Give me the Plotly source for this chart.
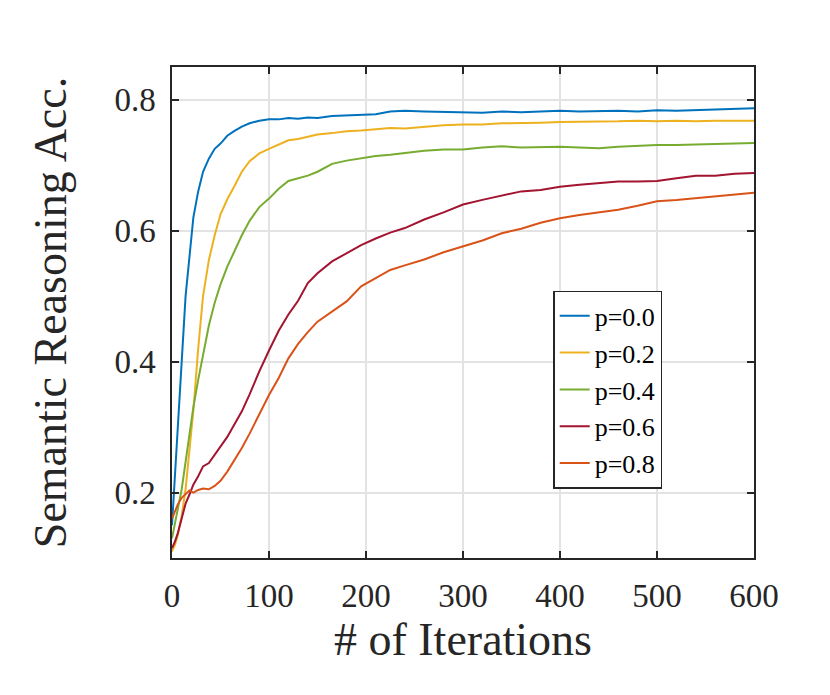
import plotly.graph_objects as go

iterations = [0, 3, 6, 10, 14, 18, 22, 27, 32, 38, 44, 50, 57, 64, 72, 80, 90, 100,
              110, 120, 130, 140, 150, 165, 180, 195, 210, 225, 240, 260, 280, 300,
              320, 340, 360, 380, 400, 420, 440, 460, 480, 500, 520, 540, 560, 580, 600]

acc_p00 = [0.150, 0.230, 0.310, 0.400, 0.500, 0.560, 0.620, 0.660, 0.690, 0.710, 0.725,
           0.733, 0.745, 0.752, 0.759, 0.764, 0.768, 0.770, 0.770, 0.772, 0.771, 0.773,
           0.772, 0.775, 0.776, 0.777, 0.778, 0.782, 0.783, 0.782, 0.781, 0.781, 0.780,
           0.782, 0.781, 0.782, 0.783, 0.782, 0.783, 0.783, 0.782, 0.784, 0.783, 0.784,
           0.785, 0.785, 0.787]
acc_p02 = [0.110, 0.120, 0.135, 0.165, 0.205, 0.260, 0.325, 0.420, 0.500, 0.555, 0.593,
           0.625, 0.648, 0.667, 0.690, 0.706, 0.718, 0.725, 0.731, 0.738, 0.740, 0.744,
           0.747, 0.749, 0.752, 0.753, 0.755, 0.757, 0.756, 0.759, 0.761, 0.762, 0.762,
           0.764, 0.764, 0.765, 0.766, 0.766, 0.767, 0.767, 0.768, 0.767, 0.768, 0.767,
           0.768, 0.768, 0.768]
acc_p04 = [0.130, 0.150, 0.175, 0.205, 0.245, 0.285, 0.330, 0.372, 0.410, 0.455, 0.490,
           0.518, 0.545, 0.568, 0.593, 0.615, 0.636, 0.649, 0.664, 0.676, 0.680, 0.684,
           0.690, 0.702, 0.707, 0.711, 0.714, 0.716, 0.719, 0.722, 0.724, 0.724, 0.727,
           0.729, 0.727, 0.728, 0.728, 0.727, 0.726, 0.728, 0.730, 0.731, 0.731, 0.732,
           0.732, 0.733, 0.734]
acc_p06 = [0.115, 0.125, 0.138, 0.160, 0.183, 0.197, 0.212, 0.225, 0.240, 0.245, 0.258,
           0.270, 0.285, 0.303, 0.324, 0.350, 0.385, 0.417, 0.447, 0.472, 0.493, 0.520,
           0.535, 0.553, 0.565, 0.578, 0.588, 0.597, 0.604, 0.617, 0.628, 0.640, 0.647,
           0.654, 0.660, 0.662, 0.667, 0.670, 0.672, 0.675, 0.675, 0.676, 0.680, 0.684,
           0.684, 0.687, 0.688]
acc_p08 = [0.160, 0.170, 0.182, 0.192, 0.198, 0.203, 0.200, 0.204, 0.206, 0.205, 0.210,
           0.218, 0.232, 0.248, 0.268, 0.290, 0.320, 0.349, 0.375, 0.405, 0.427, 0.445,
           0.461, 0.476, 0.492, 0.515, 0.528, 0.540, 0.547, 0.556, 0.567, 0.576, 0.585,
           0.596, 0.603, 0.612, 0.619, 0.624, 0.628, 0.632, 0.638, 0.645, 0.647, 0.650,
           0.653, 0.655, 0.658]

series_names = ["p=0.0", "p=0.2", "p=0.4", "p=0.6", "p=0.8"]
series_values = [acc_p00, acc_p02, acc_p04, acc_p06, acc_p08]
colors = ["#0072BD", "#EDB120", "#77AC30", "#A2142F", "#D95319"]

x_ticks = [0, 100, 200, 300, 400, 500, 600]
y_ticks = [0.2, 0.4, 0.6, 0.8]

fig = go.Figure()
for name, vals, col in zip(series_names, series_values, colors):
    fig.add_trace(go.Scatter(x=iterations, y=vals, mode="lines", name=name,
                             line=dict(color=col, width=2)))

font_family = "Liberation Serif"
axis_common = dict(showline=True, linecolor="#262626", linewidth=1.5, mirror="ticks",
                   ticks="inside", ticklen=7, tickwidth=1.5, tickcolor="#262626",
                   showgrid=True, gridcolor="#e3e3e3", gridwidth=1.5, zeroline=False,
                   tickfont=dict(family=font_family, size=33, color="#262626"))

fig.update_layout(
    width=830, height=695,
    margin=dict(l=164, r=84, t=59, b=145),
    paper_bgcolor="white", plot_bgcolor="white",
    xaxis=dict(range=[0, 600], tickvals=x_ticks, ticktext=[str(v) for v in x_ticks],
               ticklabelstandoff=8,
               title=dict(text="# of Iterations", font=dict(family=font_family, size=46, color="#262626"),
                          standoff=5),
               **axis_common),
    yaxis=dict(range=[0.1, 0.85], tickvals=y_ticks, ticktext=[f"{v:.1f}" for v in y_ticks],
               ticklabelstandoff=8,
               title=dict(text="Semantic Reasoning Acc.", font=dict(family=font_family, size=46, color="#262626"),
                          standoff=33),
               **axis_common),
    legend=dict(x=0.655, y=0.544, xanchor="left", yanchor="top",
                bgcolor="white", bordercolor="#262626", borderwidth=1.5,
                font=dict(family=font_family, size=26, color="black"),
                tracegroupgap=0, itemwidth=30),
    showlegend=True,
)

fig.write_html("out.html")
